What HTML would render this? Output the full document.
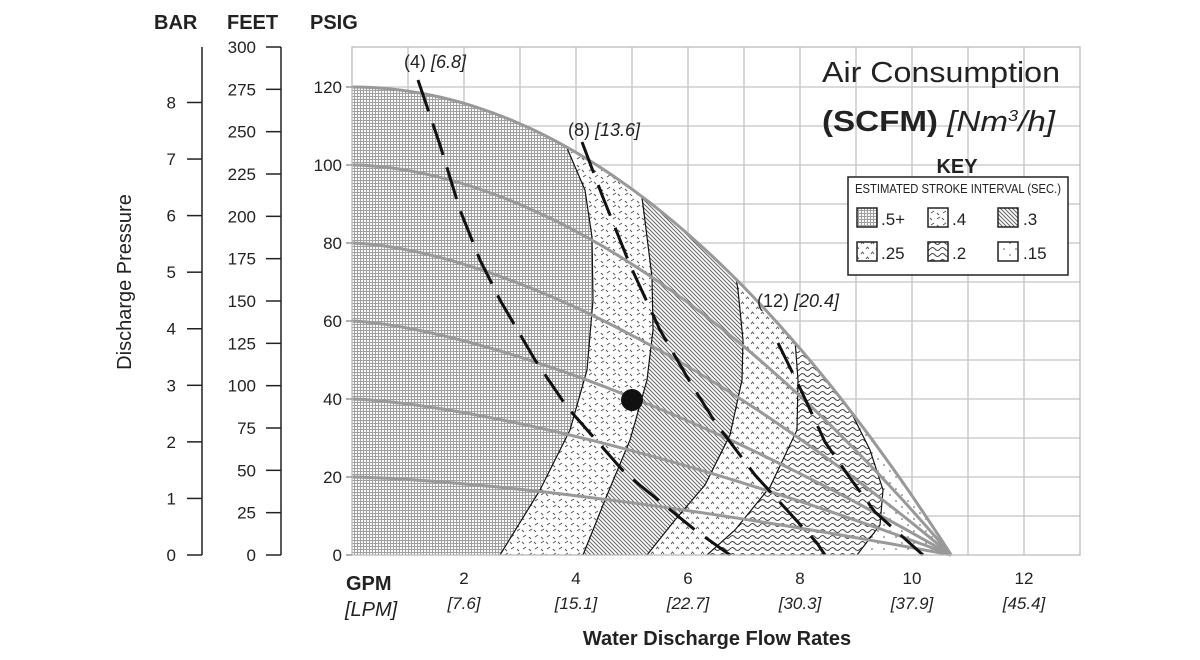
<!DOCTYPE html>
<html><head><meta charset="utf-8"><style>
html,body{margin:0;padding:0;background:#fff;}
svg{display:block;font-family:"Liberation Sans",sans-serif;}
</style></head><body>
<svg id="s" width="1200" height="660" viewBox="0 0 1200 660" xmlns="http://www.w3.org/2000/svg">
<defs>
<pattern id="p5" width="3" height="3" patternUnits="userSpaceOnUse"><rect width="3" height="3" fill="#fafafa"/><rect width="3" height="1" fill="#a0a0a0"/><rect width="1" height="3" fill="#a0a0a0"/></pattern>
<pattern id="p4" width="12" height="12" patternUnits="userSpaceOnUse"><rect width="12" height="12" fill="#fff"/><path d="M1 3 l3 -2 M7 9 l3 -2 M6 2 l2 2 M1 9 l2 2" stroke="#555" stroke-width="1"/></pattern>
<pattern id="p3" width="4" height="4" patternUnits="userSpaceOnUse"><rect width="4" height="4" fill="#fff"/><path d="M-1 -1 L5 5 M-1 3 L1 5 M3 -1 L5 1" stroke="#666" stroke-width="1"/></pattern>
<pattern id="p25" width="10" height="10" patternUnits="userSpaceOnUse"><rect width="10" height="10" fill="#fff"/><path d="M1 4 l1.5 -2 l1.5 2 M6 9 l1.5 -2 l1.5 2" stroke="#555" stroke-width="0.9" fill="none"/></pattern>
<pattern id="p2" width="10" height="6" patternUnits="userSpaceOnUse"><rect width="10" height="6" fill="#fff"/><path d="M0 3 Q2.5 0 5 3 T10 3" stroke="#444" stroke-width="1" fill="none"/></pattern>
<pattern id="p15" width="12" height="12" patternUnits="userSpaceOnUse"><rect width="12" height="12" fill="#fff"/><circle cx="2" cy="3" r="0.8" fill="#555"/><circle cx="8" cy="9" r="0.8" fill="#555"/></pattern>
<clipPath id="env"><path id="envc"/></clipPath>
</defs>
<rect width="1200" height="660" fill="#fff"/>
<g id="grid" stroke="#c4c4c4" stroke-width="1.3"></g>
<g clip-path="url(#env)" id="regions"></g>
<g id="bounds" fill="none" stroke="#111" stroke-width="1.2"></g>
<g id="gl" fill="none" stroke="#999" stroke-width="3"></g>
<path id="envl" fill="none" stroke="#999" stroke-width="3"/>
<g id="dash" fill="none" stroke="#111" stroke-width="3" stroke-dasharray="33 13"></g>
<circle cx="632" cy="400" r="11" fill="#111"/>
<rect x="352" y="47" width="728" height="508" fill="none" stroke="#bbb" stroke-width="1.3"/>
<g id="axes" stroke="#222" stroke-width="1.5"></g>
<g id="txt" fill="#222"></g>
<text x="404" y="68" font-size="18" fill="#222">(4) <tspan font-style="italic">[6.8]</tspan></text>
<text x="568" y="136" font-size="18" fill="#222">(8) <tspan font-style="italic">[13.6]</tspan></text>
<text x="757" y="307" font-size="18" fill="#222">(12) <tspan font-style="italic">[20.4]</tspan></text>
<text x="822" y="82" font-size="29" fill="#222" textLength="238" lengthAdjust="spacingAndGlyphs">Air Consumption</text>
<text x="822" y="131" font-size="29" fill="#222" textLength="233" lengthAdjust="spacingAndGlyphs"><tspan font-weight="bold">(SCFM)</tspan> <tspan font-style="italic">[Nm<tspan font-size="16" dy="-10">3</tspan><tspan dy="10">/h]</tspan></tspan></text>
<text x="957" y="173" font-size="20" font-weight="bold" text-anchor="middle" fill="#222">KEY</text>
<rect x="848" y="177" width="220" height="98" fill="#fff" stroke="#222" stroke-width="1.5"/>
<text x="958" y="193" font-size="12.5" text-anchor="middle" fill="#222" textLength="206" lengthAdjust="spacingAndGlyphs">ESTIMATED STROKE INTERVAL (SEC.)</text>
<g stroke="#222" stroke-width="1.5">
<rect x="857" y="208" width="20" height="19" fill="url(#p5)"/>
<rect x="928" y="208" width="20" height="19" fill="url(#p4)"/>
<rect x="998" y="208" width="20" height="19" fill="url(#p3)"/>
<rect x="857" y="242" width="20" height="19" fill="url(#p25)"/>
<rect x="928" y="242" width="20" height="19" fill="url(#p2)"/>
<rect x="998" y="242" width="20" height="19" fill="url(#p15)"/>
</g>
<g font-size="17" fill="#222">
<text x="881" y="225">.5+</text><text x="952" y="225">.4</text><text x="1023" y="225">.3</text>
<text x="881" y="259">.25</text><text x="952" y="259">.2</text><text x="1023" y="259">.15</text>
</g>
<text x="154" y="29" font-size="20" font-weight="bold" fill="#222">BAR</text>
<text x="227" y="29" font-size="20" font-weight="bold" fill="#222">FEET</text>
<text x="310" y="29" font-size="20" font-weight="bold" fill="#222">PSIG</text>
<text transform="translate(131,282) rotate(-90)" font-size="20" text-anchor="middle" fill="#222">Discharge Pressure</text>
<text x="346" y="590" font-size="20" font-weight="bold" fill="#222">GPM</text>
<text x="345" y="616" font-size="20" font-style="italic" fill="#222">[LPM]</text>
<text x="717" y="645" font-size="20" font-weight="bold" text-anchor="middle" fill="#222">Water Discharge Flow Rates</text>
</svg>
<script>
var NS="http://www.w3.org/2000/svg";
function el(p,t,a,txt){var e=document.createElementNS(NS,t);for(var k in a)e.setAttribute(k,a[k]);if(txt!==undefined)e.textContent=txt;document.getElementById(p).appendChild(e);return e;}
function X(q){return 352+56*q;} function Y(p){return 555-3.9*p;}
for(var q=1;q<13;q++)el("grid","line",{x1:X(q),y1:47,x2:X(q),y2:555});
for(var p=10;p<130;p+=10)el("grid","line",{x1:352,y1:Y(p),x2:1080,y2:Y(p)});
var Q0=10.7,pts=[];
for(var i=0;i<=60;i++){var q=Q0*i/60;pts.push(X(q).toFixed(1)+","+Y(120*(1-Math.pow(q/Q0,2))).toFixed(1));}
var envD="M"+pts.join(" L");
document.getElementById("envl").setAttribute("d",envD);
document.getElementById("envc").setAttribute("d",envD+" L352,555 Z");
var B={
b1:[[555,100],[567,148],[585,190],[592,237],[593,300],[587,370],[570,430],[540,490],[500,555]],
b2:[[638,170],[643,205],[652,277],[653,330],[647,380],[630,440],[605,500],[583,555]],
b3:[[730,240],[738,290],[743,340],[742,380],[730,435],[705,485],[675,520],[647,555]],
b4:[[783,270],[795,340],[798,380],[797,430],[770,487],[735,530],[707,555]],
b5:[[830,350],[850,410],[870,450],[883,490],[880,525],[857,555]]};
function poly(a){return a.map(function(p){return p[0]+","+p[1];}).join(" L");}
el("regions","rect",{x:352,y:47,width:728,height:508,fill:"url(#p15)"});
var order=[["b5","p2"],["b4","p25"],["b3","p3"],["b2","p4"],["b1","p5"]];
order.forEach(function(o){var a=B[o[0]];el("regions","path",{d:"M352,40 L"+a[0][0]+",40 L"+poly(a)+" L352,555 Z",fill:"url(#"+o[1]+")"});});
["b1","b2","b3","b4","b5"].forEach(function(k){el("bounds","path",{d:"M"+poly(B[k]),"clip-path":"url(#env)"});});
[[100,1.8],[80,1.6],[60,1.47],[40,1.45],[20,1.45]].forEach(function(pe){var P=pe[0],e=pe[1],s=[];for(var i=0;i<=50;i++){var q=Q0*i/50;s.push(X(q).toFixed(1)+","+Y(P*(1-Math.pow(q/Q0,e))).toFixed(1));}el("gl","path",{d:"M"+s.join(" L")});});
var D=[[[418,80],[440,145],[460,210],[480,260],[500,300],[535,360],[567,407],[625,473],[695,530],[730,555]],
[[582,142],[602,195],[630,265],[660,330],[690,382],[715,422],[755,475],[817,543],[825,555]],
[[778,343],[800,388],[825,442],[850,478],[875,512],[923,555]]];
D.forEach(function(a){el("dash","path",{d:"M"+poly(a)});});
el("axes","line",{x1:202,y1:47,x2:202,y2:555});
el("axes","line",{x1:281,y1:47,x2:281,y2:555});
for(var b=0;b<=8;b++){var y=Y(b*14.5038);el("axes","line",{x1:187,y1:y,x2:202,y2:y});el("txt","text",{x:176,y:y+6,"font-size":17,"text-anchor":"end"},""+b);}
for(var f=0;f<=300;f+=25){var y=555-f*508/300;el("axes","line",{x1:266,y1:y,x2:281,y2:y});el("txt","text",{x:256,y:y+6,"font-size":17,"text-anchor":"end"},""+f);}
for(var p=0;p<=120;p+=20){var y=Y(p);el("axes","line",{x1:346,y1:y,x2:352,y2:y,stroke:"#999"});el("txt","text",{x:342,y:y+6,"font-size":17,"text-anchor":"end"},""+p);}
var L=["7.6","15.1","22.7","30.3","37.9","45.4"];
for(var i=0;i<6;i++){var x=X(2*(i+1));el("txt","text",{x:x,y:584,"font-size":17,"text-anchor":"middle"},""+(2*(i+1)));el("txt","text",{x:x,y:609,"font-size":17,"text-anchor":"middle","font-style":"italic"},"["+L[i]+"]");}
</script>
</body></html>
